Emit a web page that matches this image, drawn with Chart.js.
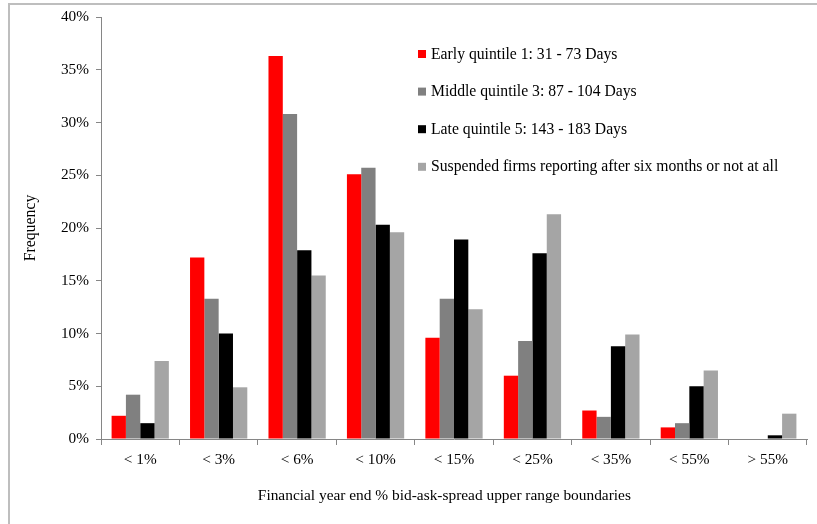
<!DOCTYPE html>
<html>
<head>
<meta charset="utf-8">
<script src="https://cdn.jsdelivr.net/npm/chart.js@4"></script>
<style>
html,body{margin:0;padding:0;background:#fff;}
#wrap{position:relative;width:817px;height:524px;}
</style>
</head>
<body>
<div id="wrap"><canvas id="c" width="817" height="524"></canvas></div>
<script>
const categories = ['< 1%', '< 3%', '< 6%', '< 10%', '< 15%', '< 25%', '< 35%', '< 55%', '> 55%'];
const seriesNames = [
  'Early quintile 1: 31 - 73 Days',
  'Middle quintile 3: 87 - 104 Days',
  'Late quintile 5: 143 - 183 Days',
  'Suspended firms reporting after six months or not at all'
];
const early     = [2.2, 17.2, 36.3, 25.1, 9.6, 6.0, 2.7, 1.1, 0.0];
const middle    = [4.2, 13.3, 30.8, 25.7, 13.3, 9.3, 2.1, 1.5, 0.0];
const late      = [1.5, 10.0, 17.9, 20.3, 18.9, 17.6, 8.8, 5.0, 0.35];
const suspended = [7.4, 4.9, 15.5, 19.6, 12.3, 21.3, 9.9, 6.5, 2.4];
const yTicks = [0, 5, 10, 15, 20, 25, 30, 35, 40];
const colors = ['#FF0000', '#808080', '#000000', '#A5A5A5'];
const xTitle = 'Financial year end % bid-ask-spread upper range boundaries';
const yTitle = 'Frequency';

const FONT = "'Liberation Serif', 'Times New Roman', serif";

const frame = {
  id: 'frame',
  afterDraw(chart) {
    const ctx = chart.ctx;
    ctx.save();
    ctx.strokeStyle = '#BEBEBE';
    ctx.lineWidth = 2;
    ctx.beginPath();
    ctx.moveTo(9, 524);
    ctx.lineTo(9, 4);
    ctx.lineTo(817, 4);
    ctx.stroke();
    ctx.restore();
  }
};

const legendPlugin = {
  id: 'customLegend',
  afterDraw(chart) {
    const ctx = chart.ctx;
    const a = chart.chartArea;
    const x0 = a.left + 317;
    const y0 = a.top + 37;
    const step = 37.6;
    ctx.save();
    ctx.font = '15.7px ' + FONT;
    ctx.textBaseline = 'middle';
    ctx.textAlign = 'left';
    chart.data.datasets.forEach((ds, i) => {
      const y = y0 + i * step;
      ctx.fillStyle = ds.backgroundColor;
      ctx.fillRect(x0, y - 4, 8, 8);
      ctx.fillStyle = '#000';
      ctx.fillText(ds.label, x0 + 13, y + 0.5);
    });
    ctx.restore();
  }
};

new Chart(document.getElementById('c'), {
  type: 'bar',
  data: {
    labels: categories,
    datasets: [early, middle, late, suspended].map((d, i) => ({
      label: seriesNames[i],
      data: d,
      backgroundColor: colors[i],
      borderWidth: 0,
      categoryPercentage: 0.73,
      barPercentage: 1.0
    }))
  },
  options: {
    responsive: false,
    animation: false,
    layout: { padding: { left: 0, right: 10, top: 17, bottom: 0 } },
    plugins: { legend: { display: false }, tooltip: { enabled: false } },
    scales: {
      x: {
        grid: { offset: true, drawOnChartArea: false, color: '#868686', tickLength: 6, lineWidth: 1 },
        border: { color: '#868686', width: 1 },
        ticks: { color: '#000', font: { family: FONT, size: 15.3 }, padding: 6, maxRotation: 0 },
        title: { display: true, text: xTitle + '\u00A0\u00A0\u00A0\u00A0\u00A0', color: '#000', font: { family: FONT, size: 15.4 }, padding: { top: 0, bottom: 19 } },
        afterFit(s) { s.height = 85; }
      },
      y: {
        min: 0, max: 40,
        afterBuildTicks(s) { s.ticks = yTicks.map(v => ({ value: v })); },
        grid: { drawOnChartArea: false, color: '#868686', tickLength: 5 },
        border: { color: '#868686', width: 1 },
        ticks: { color: '#000', font: { family: FONT, size: 15.3 }, padding: 7, callback: v => v + '%' },
        title: { display: true, text: yTitle, color: '#000', font: { family: FONT, size: 15.8 }, padding: { top: 21, bottom: 0 } },
        afterFit(s) { s.width = 101; }
      }
    }
  },
  plugins: [frame, legendPlugin]
});
</script>
</body>
</html>
